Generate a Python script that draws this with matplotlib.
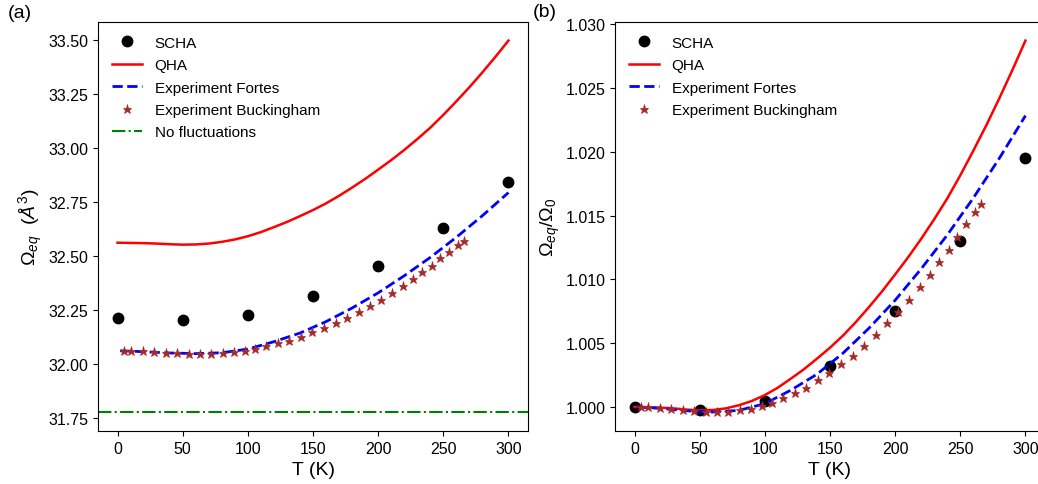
import numpy as np
import matplotlib
matplotlib.use("Agg")
import matplotlib.pyplot as plt

plt.rcParams['font.family'] = ['Liberation Sans', 'DejaVu Sans']
plt.rcParams['mathtext.fontset'] = 'custom'
plt.rcParams['mathtext.rm'] = 'Liberation Sans'
plt.rcParams['mathtext.it'] = 'Liberation Sans:italic'
plt.rcParams['mathtext.bf'] = 'Liberation Sans:bold'

# SCHA results
T_scha = [0, 50, 100, 150, 200, 250, 300]
V_scha = [32.211, 32.202, 32.227, 32.314, 32.452, 32.630, 32.840]

# quasi-harmonic approximation
T_qha = [0, 10, 20, 30, 40, 50, 60, 70, 80, 90, 100, 110, 120, 130, 140, 150,
         160, 170, 180, 190, 200, 210, 220, 230, 240, 250, 260, 270, 280, 290, 300]
V_qha = [32.560, 32.559, 32.558, 32.556, 32.553, 32.551, 32.552, 32.556,
         32.564, 32.575, 32.590, 32.609, 32.632, 32.656, 32.683, 32.711,
         32.742, 32.777, 32.815, 32.855, 32.898, 32.942, 32.989, 33.039,
         33.092, 33.151, 33.214, 33.279, 33.348, 33.420, 33.495]

# experiment (Fortes)
T_fortes = [2, 20, 40, 60, 80, 100, 120, 140, 160, 180, 200, 220, 240, 260, 280, 300]
V_fortes = [32.060, 32.056, 32.050, 32.047, 32.051, 32.068, 32.102, 32.142,
            32.195, 32.258, 32.328, 32.407, 32.492, 32.585, 32.685, 32.792]

# experiment (Buckingham)
T_buck = [5, 10, 19.5, 28, 37, 46, 54.5, 63.5, 72, 81, 89, 97.5, 105.5, 114,
          123, 131.5, 141, 149.5, 158.5, 167.5, 176, 185, 194, 202, 211, 219,
          226.5, 233.5, 241, 247.5, 254.5, 261, 265.5]
V_buck = [32.059, 32.059, 32.057, 32.054, 32.051, 32.048, 32.047, 32.045,
          32.047, 32.050, 32.054, 32.060, 32.069, 32.080, 32.094, 32.106,
          32.126, 32.145, 32.166, 32.188, 32.212, 32.240, 32.269, 32.297,
          32.327, 32.361, 32.390, 32.423, 32.453, 32.487, 32.518, 32.548, 32.568]

# volume without quantum fluctuations
V_static = 31.775


def norm(v):
    v = np.array(v)
    return v / v[0]


fig = plt.figure(figsize=(10.38, 4.85), dpi=100)
W, H = 1038.0, 485.0
ax1 = fig.add_axes([98 / W, 1 - 432 / H, 430 / W, 409 / H])
ax2 = fig.add_axes([615 / W, 1 - 432 / H, 430 / W, 409 / H])

star_kw = dict(color='brown', markersize=6.5, markeredgewidth=0.5)

# (a) absolute volume
ax1.plot(T_scha, V_scha, 'o', color='black', markersize=7.5, label='SCHA')
ax1.plot(T_qha, V_qha, '-', color='red', lw=1.8, label='QHA')
ax1.plot(T_fortes, V_fortes, '--', color='blue', lw=2, label='Experiment Fortes')
ax1.plot(T_buck, V_buck, '*', label='Experiment Buckingham', **star_kw)
ax1.axhline(V_static, ls='-.', color='green', lw=1.5, label='No fluctuations')
ax1.set_xlabel('T (K)', fontsize=14)
ax1.set_ylabel(r'$\Omega_{eq}$  ($Å^3$)', fontsize=14, labelpad=2)
ax1.legend(loc='upper left', frameon=False, fontsize=11, labelspacing=0.55)

# (b) normalised volume
ax2.plot(T_scha, norm(V_scha), 'o', color='black', markersize=7.5, label='SCHA')
ax2.plot(T_qha, norm(V_qha), '-', color='red', lw=1.8, label='QHA')
ax2.plot(T_fortes, norm(V_fortes), '--', color='blue', lw=2, label='Experiment Fortes')
ax2.plot(T_buck, norm(V_buck), '*', label='Experiment Buckingham', **star_kw)
ax2.set_xlabel('T (K)', fontsize=14)
ax2.set_ylabel(r'$\Omega_{eq}/\Omega_0$', fontsize=14, labelpad=2)
ax2.legend(loc='upper left', frameon=False, fontsize=11, labelspacing=0.55)

for ax in (ax1, ax2):
    ax.set_xticks([0, 50, 100, 150, 200, 250, 300])
    ax.tick_params(labelsize=11.5)

fig.text(8 / W, 1 - 5 / H, '(a)', fontsize=14, va='top')
fig.text(533 / W, 1 - 4 / H, '(b)', fontsize=14, va='top')

fig.savefig('out.png', dpi=100)
